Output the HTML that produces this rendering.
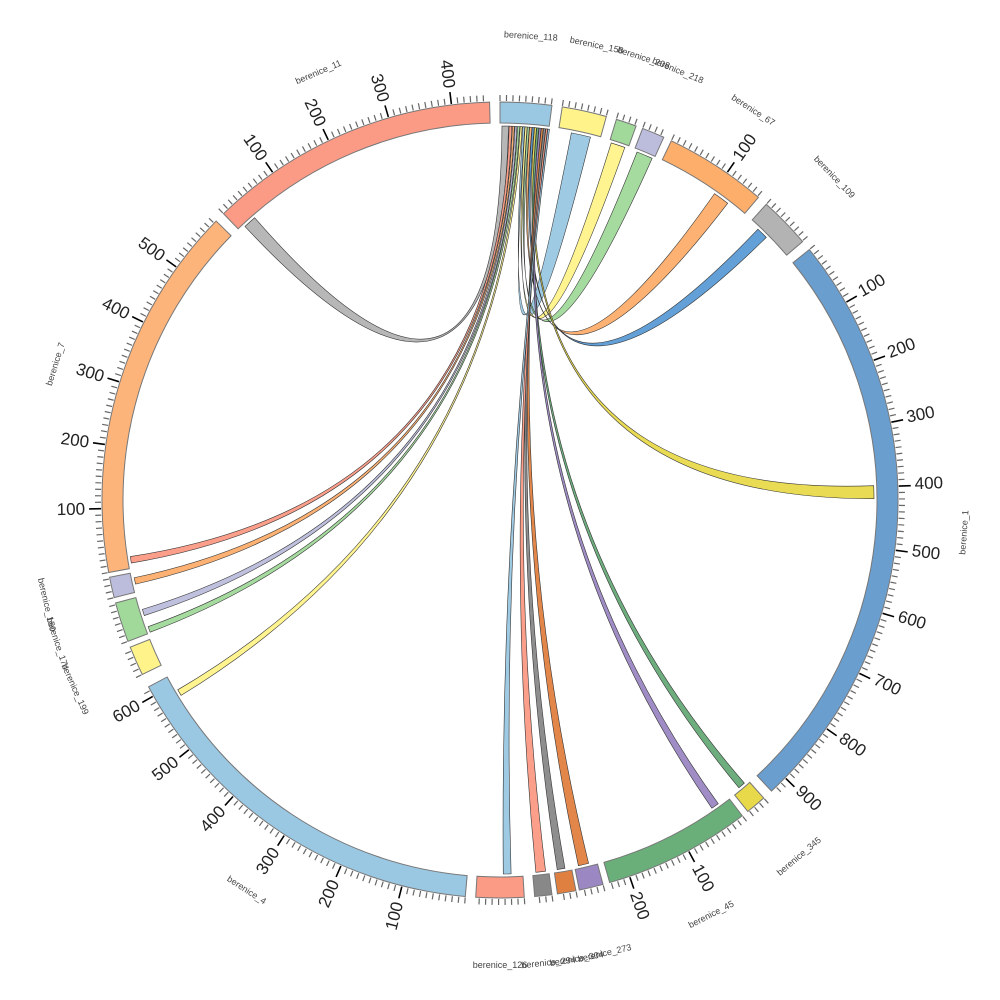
<!DOCTYPE html>
<html><head><meta charset="utf-8"><style>
html,body{margin:0;padding:0;background:#fff;width:1000px;height:1000px;overflow:hidden}
svg text{font-family:"Liberation Sans",sans-serif}
.tl{font-size:17px;fill:#222}
.nl{font-size:9px;fill:#444}
</style></head><body>
<svg id="s" width="1000" height="1000" viewBox="0 0 1000 1000">
<g id="ch"></g><g id="sg"></g><g id="tk"></g>
<g id="labs">
<text class="tl" a="60">100</text><text class="tl" a="69.25">200</text><text class="tl" a="78.5">300</text><text class="tl" a="87.75">400</text><text class="tl" a="97">500</text><text class="tl" a="106.25">600</text><text class="tl" a="115.5">700</text><text class="tl" a="124.75">800</text><text class="tl" a="134">900</text>
<text class="tl" a="151.75">100</text><text class="tl" a="161">200</text>
<text class="tl" a="34.75">100</text>
<text class="tl" a="194.25">100</text><text class="tl" a="203.5">200</text><text class="tl" a="212.75">300</text><text class="tl" a="222">400</text><text class="tl" a="231.25">500</text><text class="tl" a="240.5">600</text>
<text class="tl" a="268.75">100</text><text class="tl" a="278">200</text><text class="tl" a="287.25">300</text><text class="tl" a="296.5">400</text><text class="tl" a="305.75">500</text>
<text class="tl" a="325.25">100</text><text class="tl" a="334.5">200</text><text class="tl" a="343.75">300</text><text class="tl" a="353">400</text>
<text class="nl" n="3.8">berenice_118</text>
<text class="nl" n="12">berenice_158</text>
<text class="nl" n="18">berenice_208</text>
<text class="nl" n="22.5">berenice_218</text>
<text class="nl" n="33">berenice_67</text>
<text class="nl" n="46">berenice_109</text>
<text class="nl" n="94">berenice_1</text>
<text class="nl" n="140">berenice_345</text>
<text class="nl" n="153">berenice_45</text>
<text class="nl" n="167">berenice_273</text>
<text class="nl" n="170.5">berenice_304</text>
<text class="nl" n="174">berenice_294</text>
<text class="nl" n="180">berenice_126</text>
<text class="nl" n="213">berenice_4</text>
<text class="nl" n="246">berenice_199</text>
<text class="nl" n="252">berenice_174</text>
<text class="nl" n="257">berenice_150</text>
<text class="nl" n="287">berenice_7</text>
<text class="nl" n="337">berenice_11</text>
</g>
</svg>
<script>
var cx=500,cy=500,R1=377,R2=398,RC=374,K=0.0925,NS="http://www.w3.org/2000/svg";
function P(a,r){var t=a*Math.PI/180;return [cx+r*Math.sin(t),cy-r*Math.cos(t)];}
function f(p){return p[0].toFixed(2)+","+p[1].toFixed(2);}
function el(tag,at,par){var e=document.createElementNS(NS,tag);for(var k in at)e.setAttribute(k,at[k]);par.appendChild(e);return e;}
var segs=[
[0,7.5,"#9ac7e2"],[9,15.5,"#fff38a"],[17,20,"#a1d99b"],[21,24.3,"#bcbddc"],[25.5,40.5,"#fdae6b"],
[42,49.5,"#b3b3b3"],[51,137,"#6a9ecf"],[138.5,141.5,"#e8d94a"],[142.5,164,"#6aaf7a"],
[165,168.5,"#9b87c2"],[169,171.7,"#e08040"],[172.5,175,"#888888"],[176.5,183.5,"#fb9a85"],
[185,242,"#9ac7e2"],[244,248.3,"#fff38a"],[249.2,255,"#a1d99b"],[255.8,258.8,"#bcbddc"],
[259.5,314.5,"#fdb47b"],[316,358.5,"#fb9a85"]];
var sg=document.getElementById("sg"),tk=document.getElementById("tk"),ch=document.getElementById("ch");
segs.forEach(function(s){
 var a=s[0],b=s[1],lg=(b-a>180)?1:0;
 var d="M"+f(P(a,R2))+"A"+R2+","+R2+" 0 "+lg+" 1 "+f(P(b,R2))+"L"+f(P(b,R1))+"A"+R1+","+R1+" 0 "+lg+" 0 "+f(P(a,R1))+"Z";
 el("path",{d:d,fill:s[2],stroke:"#777","stroke-width":1},sg);
 var n=Math.floor((b-a)/K/10+1e-6);
 for(var i=0;i<=n;i++){var ang=a+i*10*K;var maj=(i%10==0&&i>0);
  var p1=P(ang,R2+1),p2=P(ang,R2+(maj?13:7));
  el("line",{x1:p1[0],y1:p1[1],x2:p2[0],y2:p2[1],stroke:maj?"#000":"#666","stroke-width":maj?1.6:1.2},tk);}
});
var chords=[
[0.3,1.3,317,319,"#b3b3b3"],[1.4,1.8,260.3,261.3,"#fb9a85"],[1.9,2.2,257,258,"#fdae6b"],
[2.3,2.6,252,253,"#bcbddc"],[2.7,3.0,249.3,250.2,"#a1d99b"],[3.1,3.4,238.5,239.5,"#fff38a"],
[3.5,3.8,11,14,"#9ac7e2"],[3.85,4.15,17.3,19.5,"#fff38a"],[4.2,4.5,21.5,24,"#a1d99b"],
[4.55,4.9,35,37.5,"#fdae6b"],[4.95,5.25,43.6,45.4,"#5b9bd5"],[5.3,5.6,87.8,89.8,"#e8d94a"],
[5.65,5.95,139.2,140.3,"#66aa77"],[6.0,6.3,144.3,145.5,"#9b87c2"],[6.35,6.65,166.3,167.9,"#e08040"],
[6.7,7.0,170,171.2,"#888888"],[7.05,7.3,173,174.5,"#fb9a85"],[7.35,7.6,178.3,179.5,"#9ac7e2"]];
chords.forEach(function(c){
 var r=RC,C=cx+","+cy;
 var d="M"+f(P(c[0],r))+"A"+r+","+r+" 0 0 1 "+f(P(c[1],r))+"Q"+C+" "+f(P(c[2],r))+"A"+r+","+r+" 0 0 1 "+f(P(c[3],r))+"Q"+C+" "+f(P(c[0],r))+"Z";
 el("path",{d:d,fill:c[4],"fill-opacity":0.95,stroke:"#333","stroke-width":0.6},ch);
});
document.querySelectorAll("text[a]").forEach(function(t){
 var a=+t.getAttribute("a"),p=P(a,R2+17);
 t.setAttribute("dominant-baseline","central");
 if(a<180){t.setAttribute("text-anchor","start");t.setAttribute("transform","translate("+f(p)+") rotate("+(a-90)+")");}
 else{t.setAttribute("text-anchor","end");t.setAttribute("transform","translate("+f(p)+") rotate("+(a+90)+")");}
});
document.querySelectorAll("text[n]").forEach(function(t){
 var a=+t.getAttribute("n"),p=P(a,465);
 var rot=(a<90||a>270)?a:a-180;
 t.setAttribute("text-anchor","middle");t.setAttribute("dominant-baseline","central");
 t.setAttribute("transform","translate("+f(p)+") rotate("+rot+")");
});
</script>
</body></html>
